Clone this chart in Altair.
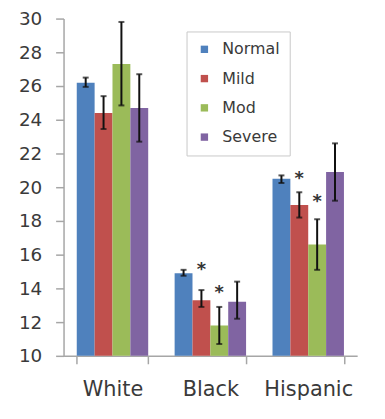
import altair as alt
import pandas as pd

groups = ["White", "Black", "Hispanic"]
severities = ["Normal", "Mild", "Mod", "Severe"]
colors = ["#4F81BD", "#C0504D", "#9BBB59", "#8064A2"]

white_mean = [26.2, 24.4, 27.3, 24.7]
white_lo = [25.95, 23.45, 24.85, 22.7]
white_hi = [26.5, 25.4, 29.8, 26.7]

black_mean = [14.9, 13.3, 11.8, 13.2]
black_lo = [14.75, 12.9, 10.7, 12.2]
black_hi = [15.1, 13.9, 12.9, 14.4]

hisp_mean = [20.5, 18.95, 16.6, 20.9]
hisp_lo = [20.25, 18.2, 15.1, 19.2]
hisp_hi = [20.7, 19.7, 18.1, 22.6]

star_group = ["Black", "Black", "Hispanic", "Hispanic"]
star_sev = ["Mild", "Mod", "Mild", "Mod"]
star_y = [15.4, 14.0, 20.8, 19.4]

y_ticks = [10, 12, 14, 16, 18, 20, 22, 24, 26, 28, 30]

rows = []
for g, m, lo, hi in [("White", white_mean, white_lo, white_hi),
                     ("Black", black_mean, black_lo, black_hi),
                     ("Hispanic", hisp_mean, hisp_lo, hisp_hi)]:
    for s, a, b, c in zip(severities, m, lo, hi):
        rows.append({"group": g, "sev": s, "mean": a, "lo": b, "hi": c})
df = pd.DataFrame(rows)
stars = pd.DataFrame({"group": star_group, "sev": star_sev, "y": star_y})

x = alt.X("group:N", sort=groups,
          scale=alt.Scale(paddingInner=0.27, paddingOuter=0.135),
          axis=alt.Axis(title=None, labelAngle=0, tickBand="extent",
                        domainColor="#a6a6a6", tickColor="#a6a6a6",
                        domainWidth=1.5, tickWidth=1.5, tickSize=8,
                        labelFont="DejaVu Sans", labelFontSize=21,
                        labelColor="#3a3a3a", labelPadding=15))
xo = alt.XOffset("sev:N", sort=severities,
                 scale=alt.Scale(paddingInner=0, paddingOuter=0))
yscale = alt.Scale(domain=[10, 30], nice=False, zero=False)
yaxis = alt.Axis(title=None, values=y_ticks, grid=False, labelOverlap=False,
                 domainColor="#a6a6a6", tickColor="#a6a6a6",
                 domainWidth=1.5, tickWidth=1.5, tickSize=8,
                 labelFont="DejaVu Sans", labelFontSize=18.5,
                 labelColor="#3a3a3a", labelPadding=14)


def yenc(field):
    return alt.Y(field, scale=yscale, axis=yaxis, title=None)


bars = alt.Chart(df).mark_bar().encode(
    x=x, xOffset=xo,
    y=yenc("mean:Q"),
    y2=alt.datum(10),
    color=alt.Color("sev:N", sort=severities,
                    scale=alt.Scale(domain=severities, range=colors),
                    legend=alt.Legend(title=None, orient="none", legendX=124, legendY=13,
                                      fillColor="white", strokeColor="#c8c8c8",
                                      padding=10, symbolType="square", symbolSize=55,
                                      symbolStrokeWidth=0, labelFont="DejaVu Sans",
                                      labelFontSize=16, labelColor="#3a3a3a",
                                      rowPadding=13.5, labelOffset=10,
                                      labelExpr="datum.label + '       '")),
)

err = alt.Chart(df).mark_rule(strokeWidth=2, color="#111111").encode(
    x=x, xOffset=xo, y=yenc("lo:Q"), y2="hi:Q")
cap_lo = alt.Chart(df).mark_tick(orient="horizontal", size=6, thickness=2, color="#111111").encode(
    x=x, xOffset=xo, y=yenc("lo:Q"))
cap_hi = alt.Chart(df).mark_tick(orient="horizontal", size=6, thickness=2, color="#111111").encode(
    x=x, xOffset=xo, y=yenc("hi:Q"))

star = alt.Chart(stars).mark_text(text="*", font="DejaVu Sans", fontSize=18, fontWeight="bold",
                                  color="#333333", baseline="alphabetic", dy=10).encode(
    x=x, xOffset=alt.XOffset("sev:N", sort=severities, scale=alt.Scale(domain=severities, paddingInner=0, paddingOuter=0)),
    y=yenc("y:Q"))

chart = alt.layer(bars, err, cap_lo, cap_hi, star).properties(
    width=296, height=340,
    autosize=alt.AutoSizeParams(type="none"),
    padding={"left": 56, "top": 9, "right": 20, "bottom": 60},
).configure_view(stroke=None).configure_axis(labelOverlap=False)

chart.save("out.html", embed_options={"renderer": "svg", "actions": False})
